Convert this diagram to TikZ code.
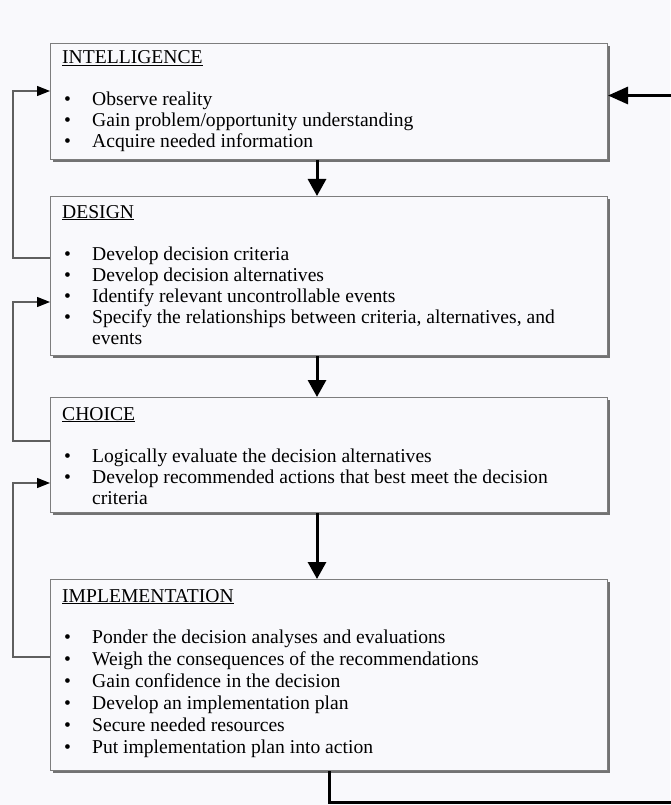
\documentclass[tikz,border=0pt]{standalone}
\usepackage{fontspec}
\setmainfont{Liberation Serif}
\usetikzlibrary{arrows.meta,shadows}

\definecolor{paper}{RGB}{249,249,252}
\definecolor{frame}{RGB}{125,125,125}
\definecolor{fbline}{RGB}{95,95,95}

\newcommand{\phasetitle}[1]{\multicolumn{2}{@{}l@{}}{\underline{#1}}}
\newcommand{\itm}{\hspace*{2pt}\textbullet}

\begin{document}
\begin{tikzpicture}[x=1pt,y=-1pt,
    phasebox/.style={draw=frame, line width=1pt, fill=paper, anchor=north west,
      minimum width=557pt, inner sep=0pt,
      drop shadow={shadow xshift=2.5pt, shadow yshift=-2.5pt, fill=black!55, opacity=1}},
    phasetext/.style={anchor=base west, inner sep=0pt, font=\fontsize{19.6}{21}\selectfont},
    down/.style={-{Triangle[length=17pt,width=18pt]}, line width=3pt},
    feedback/.style={draw=fbline, line width=1.2pt, -{Triangle[length=13pt,width=10pt,color=black]}}]

      \useasboundingbox (0,0) rectangle (670,805);
      \fill[paper] (0,0) rectangle (670,805);

      % the four phases
      \node[phasebox, minimum height=116pt] (intel) at (50,43) {};
      \node[phasebox, minimum height=159pt] (design) at (50,196) {};
      \node[phasebox, minimum height=115pt] (choice) at (50,397) {};
      \node[phasebox, minimum height=191pt] (impl) at (50,579) {};

      \node[phasetext] (intel text) at (62,64) {\begin{tabular}[t]{@{}p{30pt}@{}l@{}}
        \phasetitle{INTELLIGENCE}\\[21pt]
        \itm & Observe reality\\
        \itm & Gain problem/opportunity understanding\\
        \itm & Acquire needed information
      \end{tabular}};

      \node[phasetext] (design text) at (62,218) {\begin{tabular}[t]{@{}p{30pt}@{}l@{}}
        \phasetitle{DESIGN}\\[21pt]
        \itm & Develop decision criteria\\
        \itm & Develop decision alternatives\\
        \itm & Identify relevant uncontrollable events\\
        \itm & Specify the relationships between criteria, alternatives, and\\
             & events
      \end{tabular}};

      \node[phasetext] (choice text) at (62,420) {\begin{tabular}[t]{@{}p{30pt}@{}l@{}}
        \phasetitle{CHOICE}\\[21pt]
        \itm & Logically evaluate the decision alternatives\\
        \itm & Develop recommended actions that best meet the decision\\
             & criteria
      \end{tabular}};

      \node[phasetext, font=\fontsize{19.6}{22}\selectfont] (impl text) at (62,602) {\begin{tabular}[t]{@{}p{30pt}@{}l@{}}
        \phasetitle{IMPLEMENTATION}\\[19pt]
        \itm & Ponder the decision analyses and evaluations\\
        \itm & Weigh the consequences of the recommendations\\
        \itm & Gain confidence in the decision\\
        \itm & Develop an implementation plan\\
        \itm & Secure needed resources\\
        \itm & Put implementation plan into action
      \end{tabular}};

      % forward arrows
      \draw[down] ([xshift=-12pt]intel.south) -- ([xshift=-12pt]design.north);
      \draw[down] ([xshift=-12pt]design.south) -- ([xshift=-12pt]choice.north);
      \draw[down] ([xshift=-12pt]choice.south) -- ([xshift=-12pt]impl.north);

      % loop back from implementation to intelligence
      \draw[line width=3pt, -{Triangle[length=20pt,width=17pt]}]
        (impl.south) -- ++(0,31) -- ++(360,0) |- ([yshift=6pt]intel.east);

      % feedback to the previous phase
      \foreach \from/\outy/\to/\iny in {design/258/intel/91, choice/441/design/302, impl/657/choice/483} {
        \draw[feedback] (\from.west |- 0,\outy) -- (13,\outy) |- (\to.west |- 0,\iny);
      }
    \end{tikzpicture}
\end{document}
